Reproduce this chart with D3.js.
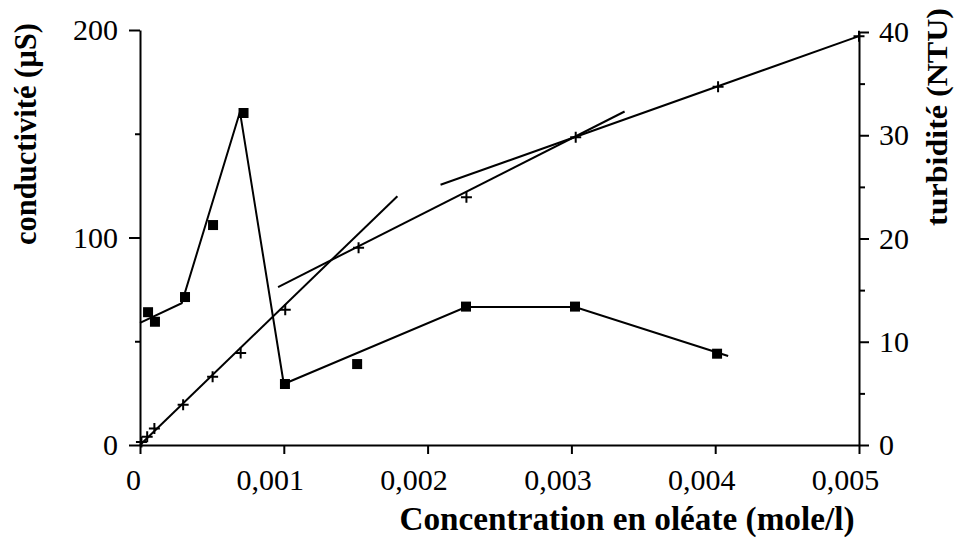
<!DOCTYPE html>
<html><head><meta charset="utf-8">
<script src="https://cdn.jsdelivr.net/npm/d3@7"></script>
<style>body{margin:0;background:#fff}svg{display:block}</style></head>
<body><svg id="c" width="957" height="548"></svg>
<script>
// ---- data ----
const xTicks = [0, 0.001, 0.002, 0.003, 0.004, 0.005];
const xTickLabels = ["0", "0,001", "0,002", "0,003", "0,004", "0,005"];
const condTicks = [0, 100, 200];
const condMinorTicks = [50, 150];
const turbTicks = [0, 10, 20, 30, 40];
const turbMinorTicks = [5, 15, 25, 35];

// conductivité (µS) – squares
const condX = [0.000056, 0.000104, 0.000313, 0.000508, 0.00072, 0.001008, 0.00151, 0.002267, 0.003025, 0.004013];
const condY = [64, 59.4, 71.3, 106, 160, 29.4, 39, 66.7, 66.7, 44];
// conductivité – drawn curve
const condLineX = [0, 0.00029, 0.000695, 0.001, 0.002267, 0.003025, 0.00409];
const condLineY = [58.9, 68.3, 160.5, 29.4, 66.5, 66.5, 42.9];

// turbidité (NTU) – crosses
const turbX = [0.00001, 0.00005, 0.0001, 0.0003, 0.000505, 0.0007, 0.00101, 0.00152, 0.00227, 0.00303, 0.00402, 0.005];
const turbY = [0.3, 0.8, 1.6, 3.9, 6.6, 8.9, 13.1, 19.1, 24.0, 29.8, 34.7, 39.6];
// turbidité – three fitted straight lines
const turbFit1X = [0, 0.00179];       const turbFit1Y = [0, 24.1];
const turbFit2X = [0.00096, 0.00337]; const turbFit2Y = [15.3, 32.3];
const turbFit3X = [0.00209, 0.005];   const turbFit3Y = [25.2, 39.6];

const xTitle = "Concentration en oléate (mole/l)";
const yLeftTitle = "conductivité (µS)";
const yRightTitle = "turbidité (NTU)";

// ---- drawing ----
const svg = d3.select("#c");
const FONT = "'Liberation Serif','Times New Roman',serif";
const x = d3.scaleLinear([0, 0.005], [140, 859]);
const yL = d3.scaleLinear([0, 200], [445, 30]);
const yR = d3.scaleLinear([0, 40], [445, 32]);

function styleAxis(g) {
  g.selectAll("path.domain").attr("stroke", "#000").attr("stroke-width", 2);
  g.selectAll(".tick line").attr("stroke", "#000").attr("stroke-width", 2);
  g.selectAll("text").attr("font-family", FONT).attr("font-size", 30).attr("fill", "#000");
}

// left axis
const gL = svg.append("g").attr("transform", "translate(140,0)")
  .call(d3.axisLeft(yL).tickValues(condTicks).tickSize(11).tickPadding(11).tickSizeOuter(0).tickFormat(d3.format("d")));
styleAxis(gL);
svg.append("g").attr("transform", "translate(140,0)")
  .call(d3.axisLeft(yL).tickValues(condMinorTicks).tickSize(5).tickFormat("").tickSizeOuter(0))
  .call(g => { g.select("path.domain").remove(); styleAxis(g); });

// right axis
const gR = svg.append("g").attr("transform", "translate(859,0)")
  .call(d3.axisRight(yR).tickValues(turbTicks).tickSize(10).tickPadding(10).tickSizeOuter(0).tickFormat(d3.format("d")));
styleAxis(gR);
svg.append("g").attr("transform", "translate(859,0)")
  .call(d3.axisRight(yR).tickValues(turbMinorTicks).tickSize(6).tickFormat("").tickSizeOuter(0))
  .call(g => { g.select("path.domain").remove(); styleAxis(g); });

// bottom axis
const gB = svg.append("g").attr("transform", "translate(0,445)")
  .call(d3.axisBottom(x).tickValues(xTicks).tickSize(9).tickPadding(15).tickSizeOuter(0)
    .tickFormat((d, i) => xTickLabels[i]));
styleAxis(gB);
gB.selectAll(".tick text").attr("dx", (d, i) => i === 0 ? -7 : -14);

// lines
const line = d3.line().x(d => x(d[0])).y(d => d[1]);
const mkLine = (xs, ys, ys2) => xs.map((v, i) => [v, ys2(ys[i])]);
const plot = svg.append("g").attr("fill", "none").attr("stroke", "#000").attr("stroke-width", 2).attr("stroke-linejoin", "miter");
plot.append("path").attr("d", line(mkLine(condLineX, condLineY, yL)));
plot.append("path").attr("d", line(mkLine(turbFit1X, turbFit1Y, yR)));
plot.append("path").attr("d", line(mkLine(turbFit2X, turbFit2Y, yR)));
plot.append("path").attr("d", line(mkLine(turbFit3X, turbFit3Y, yR)));

// square markers
svg.append("g").selectAll("rect").data(condX.map((v, i) => [v, condY[i]])).join("rect")
  .attr("x", d => x(d[0]) - 5).attr("y", d => yL(d[1]) - 5)
  .attr("width", 10).attr("height", 10).attr("fill", "#000");

// cross markers
svg.append("g").attr("stroke", "#000").attr("stroke-width", 2).selectAll("path")
  .data(turbX.map((v, i) => [v, turbY[i]])).join("path")
  .attr("d", d => { const cx = x(d[0]), cy = yR(d[1]); return `M${cx-5.5},${cy}H${cx+5.5}M${cx},${cy-5.5}V${cy+5.5}`; });

// titles
svg.append("text").attr("x", 627).attr("y", 530).attr("text-anchor", "middle")
  .attr("font-family", FONT).attr("font-weight", "bold").attr("font-size", 33)
  .attr("textLength", 455).attr("lengthAdjust", "spacingAndGlyphs").text(xTitle);
svg.append("text").attr("transform", "translate(36,134) rotate(-90)").attr("text-anchor", "middle")
  .attr("font-family", FONT).attr("font-weight", "bold").attr("font-size", 31)
  .attr("textLength", 222).attr("lengthAdjust", "spacingAndGlyphs").text(yLeftTitle);
svg.append("text").attr("transform", "translate(947,117) rotate(-90)").attr("text-anchor", "middle")
  .attr("font-family", FONT).attr("font-weight", "bold").attr("font-size", 29)
  .attr("textLength", 218).attr("lengthAdjust", "spacingAndGlyphs").text(yRightTitle);
</script></body></html>
